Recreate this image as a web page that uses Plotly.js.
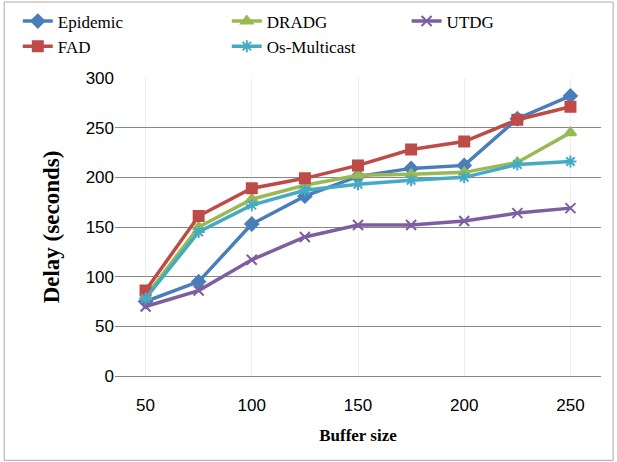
<!DOCTYPE html>
<html><head><meta charset="utf-8">
<script src="https://cdn.plot.ly/plotly-3.0.1.min.js"></script>
<style>body{margin:0}#chart{width:617px;height:462px}</style>
</head><body><div id="chart"></div>
<script>
var buffer = [50, 75, 100, 125, 150, 175, 200, 225, 250];
var epidemic = [75, 95, 153, 181, 201, 209, 212, 259, 282];
var dradg = [80, 150, 178, 192, 202, 203, 205, 215, 245];
var utdg = [70, 86, 117, 140, 152, 152, 156, 164, 169];
var fad = [86, 161, 189, 199, 212, 228, 236, 258, 271];
var osMulticast = [78, 145, 172, 187, 193, 197, 200, 213, 216];

function serie(nom, y, couleur, symbole, leg) {
    return {
        x: buffer.map(String), y: y, name: nom, type: 'scatter', mode: 'lines+markers', legend: leg,
        line: {color: couleur, width: 3.5},
        marker: {color: couleur, symbol: symbole, size: 10, line: {color: couleur, width: 2}}
    };
}

// une légende par colonne pour avoir la disposition 3 + 2
var data = [
    serie('Epidemic', epidemic, '#4a7ebb', 'diamond', 'legend'),
    serie('DRADG', dradg, '#98b954', 'triangle-up', 'legend2'),
    serie('UTDG', utdg, '#7d5fa0', 'x-thin', 'legend3'),
    serie('FAD', fad, '#be4b48', 'square', 'legend'),
    serie('Os-Multicast', osMulticast, '#46aac5', 'asterisk', 'legend2')
];

var legStyle = {orientation: 'v', xanchor: 'left', yanchor: 'top', y: 1.25,
                font: {size: 17}, bgcolor: 'rgba(0,0,0,0)', tracegroupgap: 0};

var layout = {
    width: 617, height: 462,
    margin: {l: 115, r: 16, t: 78, b: 86, autoexpand: false},
    font: {family: 'Liberation Serif', size: 17, color: '#000'},
    showlegend: true,
    legend: Object.assign({x: -0.2}, legStyle),
    legend2: Object.assign({x: 0.23}, legStyle),
    legend3: Object.assign({x: 0.6}, legStyle),
    xaxis: {title: {text: '<b>Buffer size</b>', font: {size: 17}, standoff: 14}, showline: true,
            linecolor: '#888', ticks: '', ticklabelstandoff: 14, automargin: false,
            tickfont: {size: 17, family: 'Liberation Sans'}},
    yaxis: {title: {text: '<b>Delay (seconds)</b>', font: {size: 23}}, range: [0, 300], automargin: false,
            dtick: 50, gridcolor: '#888', zeroline: false, tickfont: {size: 17, family: 'Liberation Sans'}},
    shapes: [{type: 'rect', xref: 'paper', yref: 'paper', x0: -0.228, x1: 1.025, y0: -0.283, y1: 1.255,
              line: {color: '#aaa', width: 1}}]
};

Plotly.newPlot('chart', data, layout, {displayModeBar: false});
</script></body></html>
